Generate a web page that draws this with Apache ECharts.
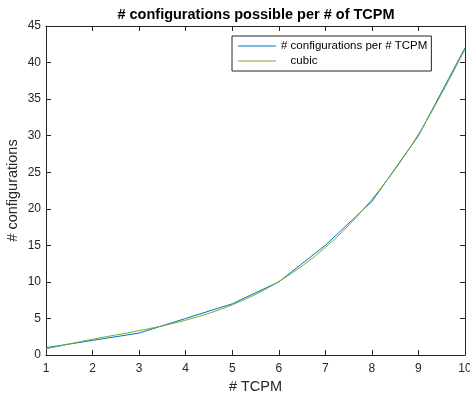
<!DOCTYPE html>
<html>
<head>
<meta charset="utf-8">
<script src="https://cdn.jsdelivr.net/npm/echarts@6/dist/echarts.min.js"></script>
<style>html,body{margin:0;padding:0;background:#fff;}#c{width:470px;height:396px;}</style>
</head>
<body>
<div id="c"></div>
<script>
var xValues = [1, 2, 3, 4, 5, 6, 7, 8, 9, 10];
var configValues = [1, 2, 3, 5, 7, 10, 15, 21, 30, 42];
var cubicValues = [0.83, 2.16, 3.33, 4.76, 6.86, 10.04, 14.71, 21.29, 30.19, 41.82];
var seriesNames = ['# configurations per # TCPM', 'cubic'];
var titleText = '# configurations possible per # of TCPM';
var xName = '# TCPM';
var yName = '# configurations';

var FONT = '"Liberation Sans", Arial, Helvetica, sans-serif';
var AX = '#262626';
function pairs(xs, ys) { return xs.map(function (x, i) { return [x, ys[i]]; }); }

var chart = echarts.init(document.getElementById('c'), null, {renderer: 'canvas'});
function axisBase() {
  return {
    axisLine: {show: true, onZero: false, lineStyle: {color: AX, width: 1}},
    axisTick: {show: true, inside: true, length: 5, lineStyle: {color: AX}},
    splitLine: {show: false}
  };
}
chart.setOption({
  animation: false,
  backgroundColor: '#fff',
  title: {
    text: titleText, left: 251, top: 2, textAlign: 'center',
    textStyle: {fontFamily: FONT, fontSize: 14.5, fontWeight: 'bold', color: '#000'}
  },
  grid: {left: 46, right: 5, top: 26, bottom: 41, containLabel: false, outerBoundsMode: 'none'},
  legend: {
    left: 232, top: 36, orient: 'vertical',
    data: seriesNames,
    formatter: function (n) { return n === 'cubic' ? '   ' + n : n; },
    itemWidth: 38, itemHeight: 1, itemGap: 1,
    padding: [3, 4, 3, 6],
    borderColor: AX, borderWidth: 1, backgroundColor: '#fff',
    icon: 'rect',
    textStyle: {fontFamily: FONT, fontSize: 11.5, color: '#000', lineHeight: 14}
  },
  xAxis: [
    Object.assign(axisBase(), {
      type: 'value', min: 1, max: 10, interval: 1, position: 'bottom',
      name: xName, nameLocation: 'middle', nameGap: 24, nameMoveOverlap: false,
      nameTextStyle: {fontFamily: FONT, fontSize: 14.5, color: AX},
      axisLabel: {fontFamily: FONT, fontSize: 12, color: AX, margin: 8}
    }),
    Object.assign(axisBase(), {
      type: 'value', min: 1, max: 10, interval: 1, position: 'top',
      axisLabel: {show: false}
    })
  ],
  yAxis: [
    Object.assign(axisBase(), {
      type: 'value', min: 0, max: 45, interval: 5, position: 'left',
      name: yName, nameLocation: 'middle', nameGap: 26, nameMoveOverlap: false,
      nameTextStyle: {fontFamily: FONT, fontSize: 14.5, color: AX},
      axisLabel: {fontFamily: FONT, fontSize: 12, color: AX, margin: 5}
    }),
    Object.assign(axisBase(), {
      type: 'value', min: 0, max: 45, interval: 5, position: 'right',
      axisLabel: {show: false}
    })
  ],
  series: [
    {
      name: seriesNames[0], type: 'line', data: pairs(xValues, configValues),
      showSymbol: false, symbol: 'none', color: '#0072BD',
      lineStyle: {color: '#0072BD', width: 1}, xAxisIndex: 0, yAxisIndex: 0
    },
    {
      name: seriesNames[1], type: 'line', data: pairs(xValues, cubicValues),
      showSymbol: false, symbol: 'none', smooth: 0.35, color: '#77AC30',
      lineStyle: {color: '#77AC30', width: 1}, xAxisIndex: 0, yAxisIndex: 0
    }
  ]
});
</script>
</body>
</html>
